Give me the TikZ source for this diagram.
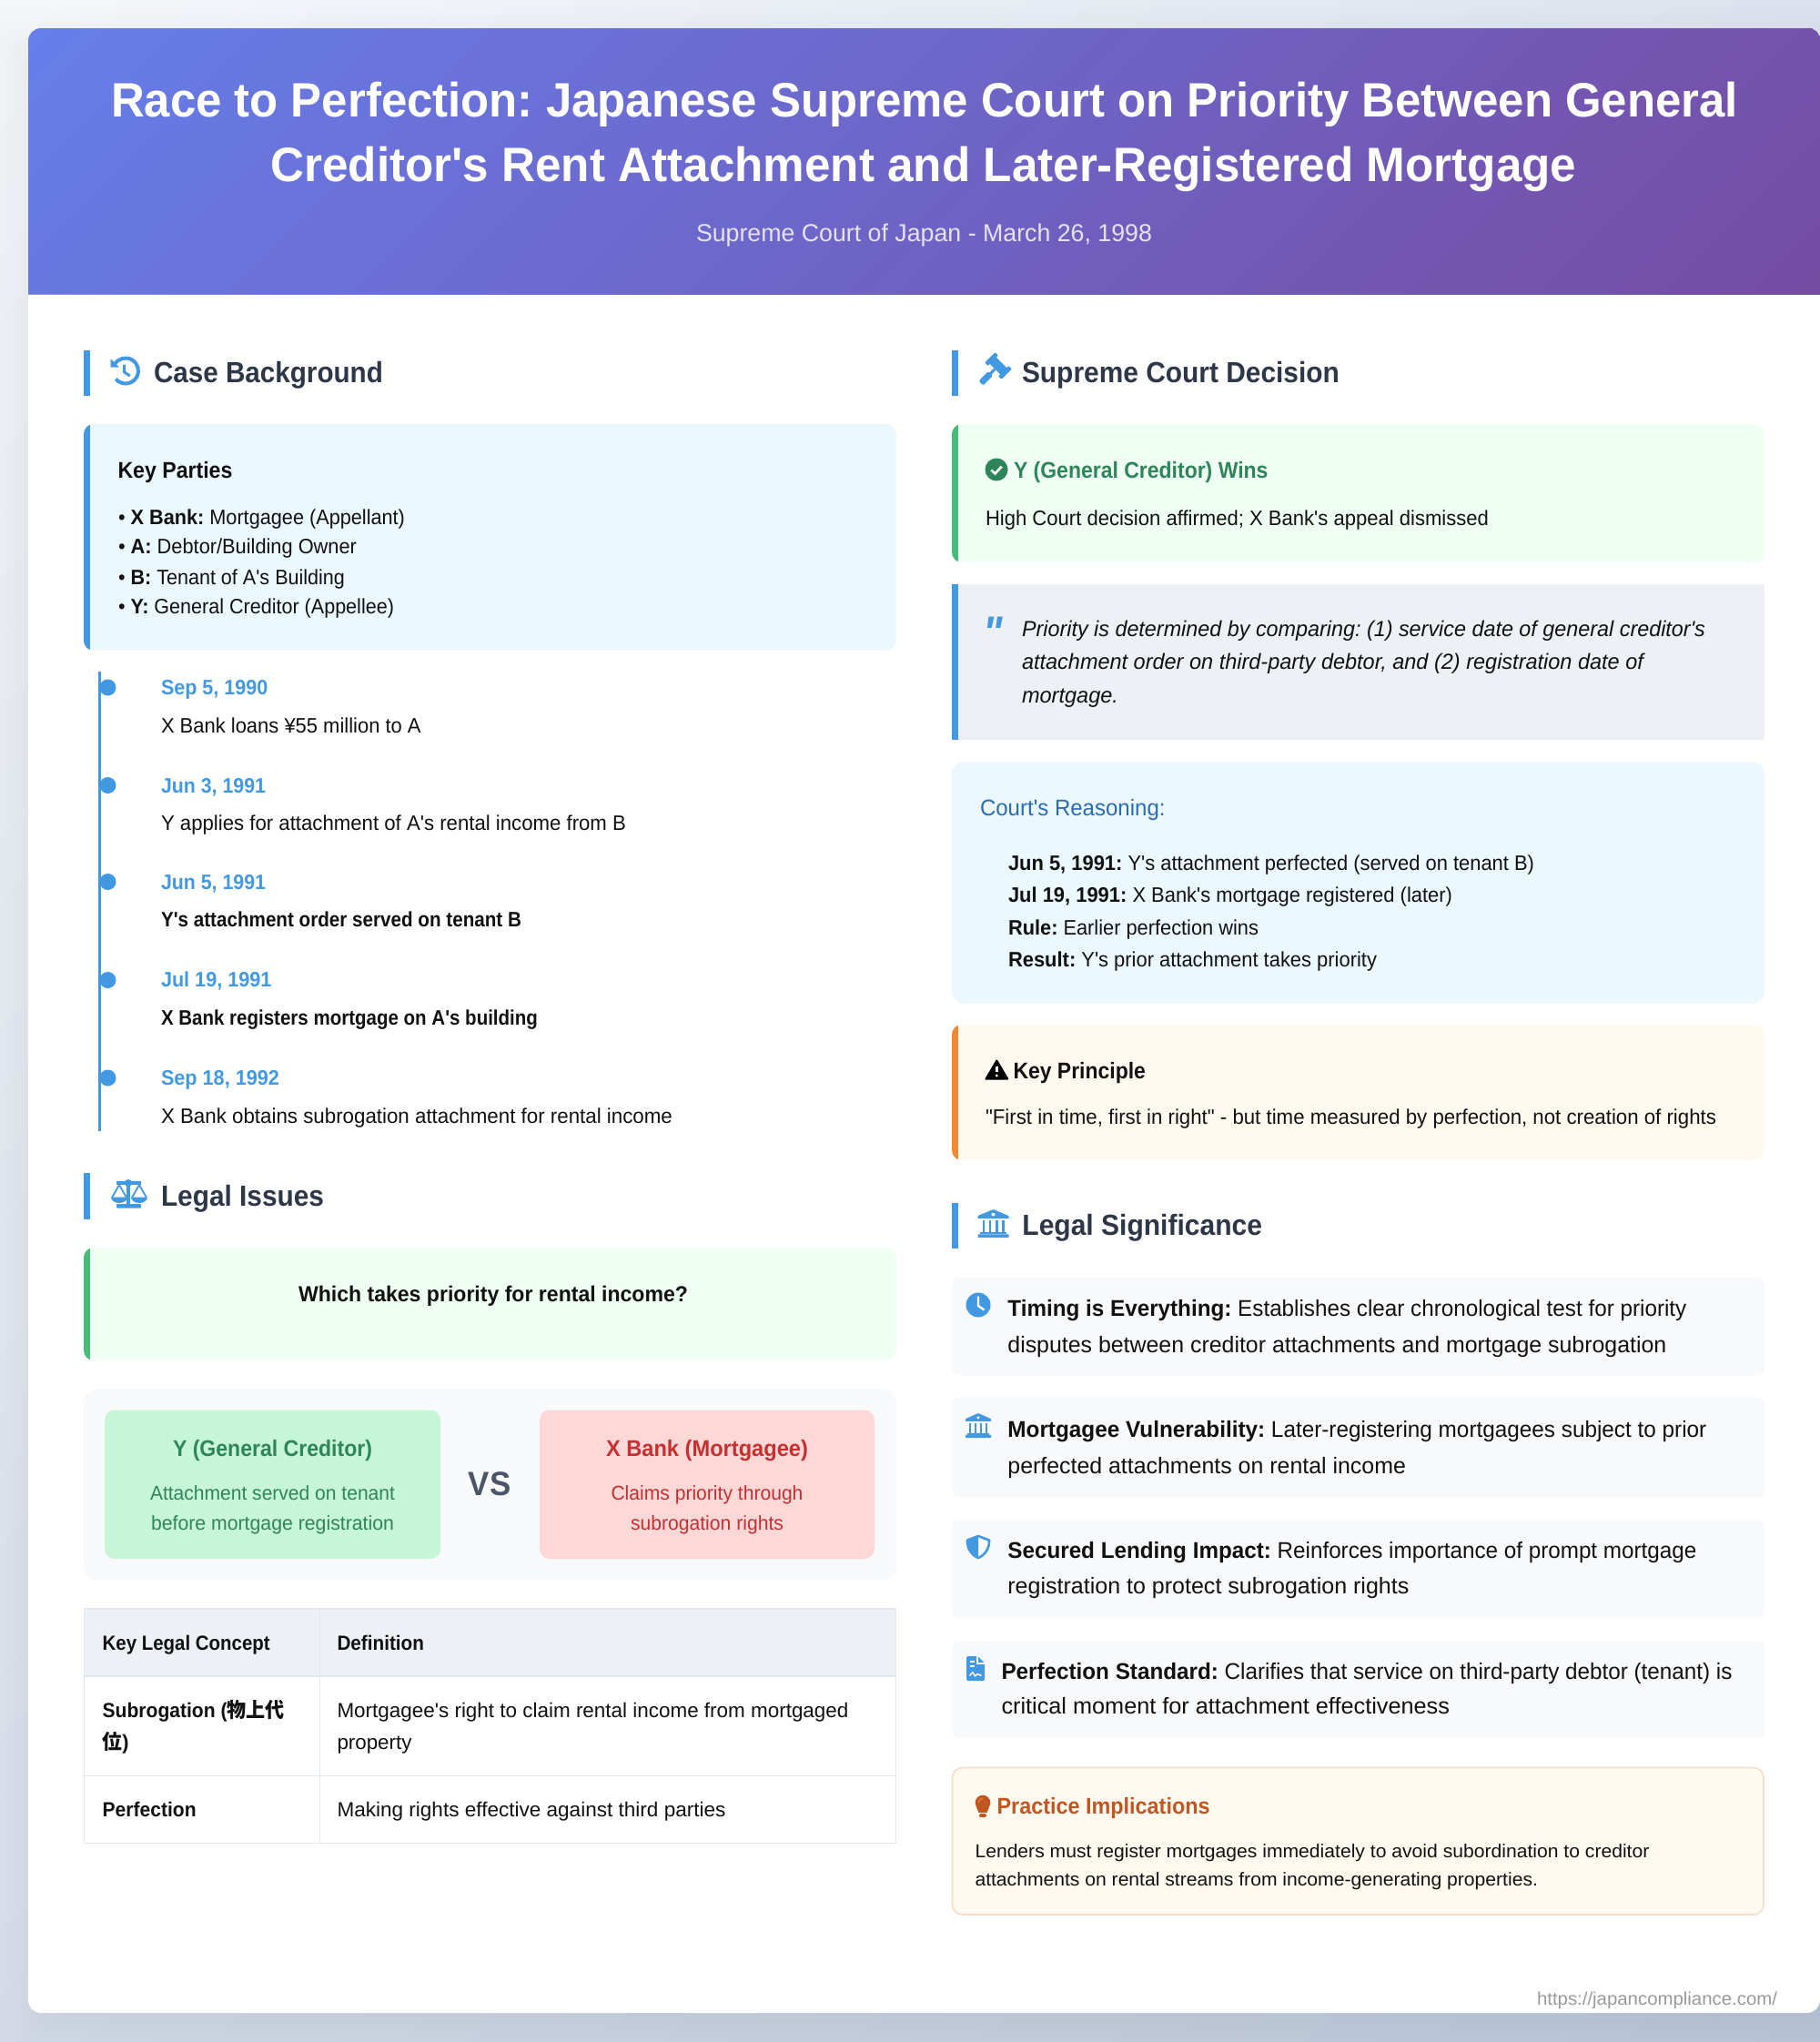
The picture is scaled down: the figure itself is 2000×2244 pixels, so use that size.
\documentclass[tikz,border=0pt]{standalone}
\usepackage{fontspec}
\usepackage{graphicx}
\setmainfont{Liberation Sans}
\newfontfamily\rob{Liberation Sans}
\newfontfamily\cjk{Noto Sans CJK JP}
\frenchspacing
\definecolor{txt}{HTML}{111111}
\definecolor{head}{HTML}{2D3748}
\definecolor{accent}{HTML}{4299E1}
\definecolor{greenbar}{HTML}{48BB78}
\definecolor{orangebar}{HTML}{ED8936}
\definecolor{infobg}{HTML}{EBF8FF}
\definecolor{okbg}{HTML}{F0FFF4}
\definecolor{warnbg}{HTML}{FFFAF0}
\definecolor{quotebg}{HTML}{EDF0F5}
\definecolor{softbg}{HTML}{F8F9FB}
\definecolor{greentxt}{HTML}{2F855A}
\definecolor{redtxt}{HTML}{C53030}
\definecolor{greenbox}{HTML}{C6F6D5}
\definecolor{redbox}{HTML}{FED7D7}
\definecolor{vstxt}{HTML}{4A5568}
\definecolor{bluetxt}{HTML}{2B6CB0}
\definecolor{pracborder}{HTML}{FBDCCB}
\definecolor{practxt}{HTML}{C05621}
\definecolor{rule}{HTML}{E2E8F0}
\definecolor{foot}{HTML}{999999}
\definecolor{subt}{HTML}{E6E2F3}
\definecolor{bgA}{HTML}{F5F7FA}
\definecolor{bgB}{HTML}{BFCBDF}
\definecolor{hdA}{HTML}{667EEA}
\definecolor{hdB}{HTML}{764BA2}
\newsavebox\tbox
\newcommand\fit[2]{\sbox\tbox{\rob\frenchspacing #2}\pgfmathsetmacro\fitf{#1/\the\wd\tbox}\scalebox{\fitf}[1]{\usebox\tbox}}
\newcounter{tn}
\tikzset{lbl/.style={inner sep=0pt,outer sep=0pt}}
\newcommand\TL[6][txt]{\stepcounter{tn}\node[lbl,text=#1,anchor=base west,name=t\thetn] at (#2,#3) {\fontsize{#4}{#4}\selectfont\fit{#5}{#6}};}
\newcommand\TC[6][txt]{\stepcounter{tn}\node[lbl,text=#1,anchor=base,name=t\thetn] at (#2,#3) {\fontsize{#4}{#4}\selectfont\fit{#5}{#6}};}
% diagonal (135deg) gradient inside the current clip: x1 y1 x2 y2 c1 c2 steps
\newcommand\GRAD[7]{\foreach \i in {0,...,#7}{%
  \pgfmathsetmacro\ss{#1+#2+\i/#7*(#3-#1+#4-#2)}%
  \pgfmathsetmacro\pp{100*\i/#7}%
  \colorlet{gc}{#6!\pp!#5}%
  \fill[gc] (\ss-#2,#2) -- (\ss-#4,#4) -- (#3+#4-#2+20,#4) -- (#3+#4-#2+20,#2) -- cycle;}}
% panel with a left bar: x1 y1 x2 y2 bg bar radius
\newcommand\PANEL[7]{\begin{scope}\clip[rounded corners=#7] (#1,#2) rectangle (#3,#4);
  \fill[#5] (#1,#2) rectangle (#3,#4);
  \fill[#6] (#1,#2) rectangle (#1+7,#4);\end{scope}}
\newcommand\BAR[2]{\fill[accent] (#1,#2) rectangle (#1+7,#2+50.5);}
\newcommand\BANK[4]{\begin{scope}[shift={(#1,#2)},x=#3pt,y=-#4pt]
  \fill[accent,rounded corners=0.6pt] (.5,0) -- (1,.23) -- (1,.33) -- (0,.33) -- (0,.23) -- cycle;
  \fill[white] (.5,.18) circle[radius=.06];
  \foreach \c in {.15,.36,.57,.78}{\fill[accent] (\c,.40) rectangle (\c+.08,.80);}
  \fill[accent] (.08,.80) rectangle (.92,.88);
  \fill[accent,rounded corners=0.6pt] (0,.88) rectangle (1,1);
\end{scope}}
\begin{document}
\begin{tikzpicture}[x=1pt,y=-1pt]
\useasboundingbox (0,0) rectangle (2000,2244);
% page background
\begin{scope}\clip (0,0) rectangle (2000,2244);
\GRAD{0}{0}{2000}{2244}{bgA}{bgB}{60}
% card shadow
\foreach \e in {50,45,...,-50}{\fill[black,opacity=.005,rounded corners=20] (31-\e,59-\e) rectangle (2060+\e,2240+\e);}
\end{scope}
% card
\fill[white,rounded corners=14] (31,31) rectangle (2000,2212);
% header
\begin{scope}
\clip[rounded corners=14] (31,31) rectangle (2000,360);
\clip (31,31) rectangle (2000,323);
\GRAD{31}{31}{2000}{323}{hdA}{hdB}{80}
\end{scope}
\TC[white]{1016}{128}{53}{1788}{\textbf{Race to Perfection: Japanese Supreme Court on Priority Between General}}
\TC[white]{1015}{199}{53}{1435}{\textbf{Creditor's Rent Attachment and Later-Registered Mortgage}}
\TC[subt]{1015.5}{265}{27}{501}{Supreme Court of Japan - March 26, 1998}
% ---------- Case Background
\BAR{92}{384.5}
\draw[accent,line width=4] (138,407.5) ++(-150:14) arc[start angle=-150,end angle=140,radius=14];
\fill[accent] (121.5,394) -- (121.5,403.5) -- (131,403.5) -- cycle;
\draw[accent,line width=3] (136.7,400.5) -- (136.7,409) -- (142.7,413);
\TL[head]{169}{420}{32}{252}{\textbf{Case Background}}
\PANEL{92}{466}{985}{715}{infobg}{accent}{11}
\TL{129.5}{525}{25}{126}{\textbf{Key Parties}}
\TL{130}{576}{23}{315}{• \textbf{X Bank:} Mortgagee (Appellant)}
\TL{130}{608}{23}{262}{• \textbf{A:} Debtor/Building Owner}
\TL{130}{642}{23}{249}{• \textbf{B:} Tenant of A's Building}
\TL{130}{674}{23}{303}{• \textbf{Y:} General Creditor (Appellee)}
% timeline
\fill[accent] (108,738) rectangle (110.8,1243);
\foreach \n/\yy in {a/755.5,b/863,c/969,d/1077,e/1184.5}{\fill[accent] (118.5,\yy) circle[radius=9];}
\TL[accent]{177}{763}{23}{117.4}{\textbf{Sep 5, 1990}}
\TL{177}{805}{23}{285.7}{X Bank loans ¥55 million to A}
\TL[accent]{177}{871}{23}{115}{\textbf{Jun 3, 1991}}
\TL{177}{912.5}{23}{511}{Y applies for attachment of A's rental income from B}
\TL[accent]{177}{977}{23}{115}{\textbf{Jun 5, 1991}}
\TL{177}{1018}{23}{396}{\textbf{Y's attachment order served on tenant B}}
\TL[accent]{177}{1084}{23}{121.4}{\textbf{Jul 19, 1991}}
\TL{177}{1126}{23}{414}{\textbf{X Bank registers mortgage on A's building}}
\TL[accent]{177}{1192}{23}{130}{\textbf{Sep 18, 1992}}
\TL{177}{1234}{23}{562}{X Bank obtains subrogation attachment for rental income}
% ---------- Legal Issues
\BAR{92}{1289}
% scales icon
\fill[accent] (128,1298.2) rectangle (155,1301.8);
\fill[accent] (141,1300) circle[radius=4];
\fill[accent] (139,1300) rectangle (143,1323);
\fill[accent,rounded corners=1] (128,1323) rectangle (155,1327.5);
\draw[accent,line width=1.8,line join=round] (123,1316) -- (131,1302) -- (139,1316);
\draw[accent,line width=1.8,line join=round] (145,1316) -- (153,1302) -- (161,1316);
\fill[accent] (122,1315.5) -- (140,1315.5) arc[start angle=0,end angle=180,x radius=9,y radius=6.5] -- cycle;
\fill[accent] (144,1315.5) -- (162,1315.5) arc[start angle=0,end angle=180,x radius=9,y radius=6.5] -- cycle;
\TL[head]{177}{1325}{32}{179}{\textbf{Legal Issues}}
\PANEL{92}{1371}{985}{1495}{okbg}{greenbar}{11}
\TC{542}{1430}{24}{428}{\textbf{Which takes priority for rental income?}}
\fill[softbg,rounded corners=14] (92,1527) rectangle (985,1736);
\fill[greenbox,rounded corners=11] (115,1549.5) rectangle (484,1713);
\fill[redbox,rounded corners=11] (593,1549.5) rectangle (961,1713);
\TC[greentxt]{299.5}{1600.5}{25}{219}{\textbf{Y (General Creditor)}}
\TC[greentxt]{299.5}{1648.5}{22}{269}{Attachment served on tenant}
\TC[greentxt]{299.5}{1681}{22}{267}{before mortgage registration}
\TC[vstxt]{538}{1643}{37}{46.5}{\textbf{VS}}
\TC[redtxt]{777}{1600.5}{25}{222}{\textbf{X Bank (Mortgagee)}}
\TC[redtxt]{777}{1648.5}{22}{211}{Claims priority through}
\TC[redtxt]{777}{1681}{22}{168}{subrogation rights}
% table
\fill[quotebg] (92,1768) rectangle (985,1842);
\draw[rule,line width=1.6] (92.5,1768) rectangle (984.5,2025.5);
\draw[rule,line width=1.6] (92.5,1842) -- (984.5,1842);
\draw[rule,line width=1.6] (92.5,1951.5) -- (984.5,1951.5);
\draw[rule,line width=1.6] (351.5,1768) -- (351.5,2025.5);
\TL{112.7}{1813}{22.5}{184}{\textbf{Key Legal Concept}}
\TL{370.5}{1813}{22.5}{95.5}{\textbf{Definition}}
\TL{112.7}{1887}{22.5}{200}{\textbf{Subrogation (}{\cjk\bfseries 物上代}}
\TL{112.7}{1922.5}{22.5}{29}{{\cjk\bfseries 位}\textbf{)}}
\TL{370.5}{1887}{22.5}{562}{Mortgagee's right to claim rental income from mortgaged}
\TL{370.5}{1922.5}{22.5}{82}{property}
\TL{112.7}{1996}{22.5}{103}{\textbf{Perfection}}
\TL{370.5}{1996}{22.5}{427}{Making rights effective against third parties}
% ---------- Supreme Court Decision
\BAR{1046}{384.5}
\begin{scope}[shift={(1097,402)},rotate=-45]
\fill[accent] (-9,-5) rectangle (9,5);
\fill[accent,rounded corners=1] (-13,-8) rectangle (-8,8);
\fill[accent,rounded corners=1] (8,-8) rectangle (13,8);
\fill[accent] (-1.5,5) rectangle (1.5,13);
\fill[accent,rounded corners=1.5] (-3.5,12) rectangle (3.5,27);
\end{scope}
\TL[head]{1123}{420}{32}{349}{\textbf{Supreme Court Decision}}
\PANEL{1046}{466}{1939}{618}{okbg}{greenbar}{11}
\fill[greentxt] (1095,516) circle[radius=12.5];
\draw[white,line width=2.6] (1089.3,516.5) -- (1093.5,520.5) -- (1100.7,512.7);
\TL[greentxt]{1114}{525}{25}{279.5}{\textbf{Y (General Creditor) Wins}}
\TL{1083}{577}{23}{553}{High Court decision affirmed; X Bank's appeal dismissed}
\PANEL{1046}{641.5}{1939}{813}{quotebg}{accent}{0}
\TL[accent]{1080}{712}{50}{22}{\textbf{\textit{"}}}
\TL{1123}{699}{24}{751}{\textit{Priority is determined by comparing: (1) service date of general creditor's}}
\TL{1123}{735.5}{24}{685}{\textit{attachment order on third-party debtor, and (2) registration date of}}
\TL{1123}{772}{24}{106}{\textit{mortgage.}}
\fill[infobg,rounded corners=14] (1046,837) rectangle (1939,1103);
\TL[bluetxt]{1077}{896}{25}{203.6}{Court's Reasoning:}
\TL{1108}{956}{23}{578}{\textbf{Jun 5, 1991:} Y's attachment perfected (served on tenant B)}
\TL{1108}{991}{23}{488}{\textbf{Jul 19, 1991:} X Bank's mortgage registered (later)}
\TL{1108}{1027}{23}{275}{\textbf{Rule:} Earlier perfection wins}
\TL{1108}{1062}{23}{405}{\textbf{Result:} Y's prior attachment takes priority}
\PANEL{1046}{1126}{1939}{1275}{warnbg}{orangebar}{11}
\fill[black,rounded corners=2] (1095.3,1163.5) -- (1109,1186.7) -- (1081.7,1186.7) -- cycle;
\draw[white,line width=2.6] (1095.3,1171.5) -- (1095.3,1178);
\fill[white] (1095.3,1182) circle[radius=1.6];
\TL{1113.5}{1185}{25}{145.5}{\textbf{Key Principle}}
\TL{1083}{1235}{23}{803}{"First in time, first in right" - but time measured by perfection, not creation of rights}
% ---------- Legal Significance
\BAR{1046}{1321.6}
\BANK{1074.5}{1329}{34}{31}
\TL[head]{1123.4}{1357}{32}{263.6}{\textbf{Legal Significance}}
\fill[softbg,rounded corners=8] (1046,1404) rectangle (1939,1511.5);
\fill[softbg,rounded corners=8] (1046,1535.4) rectangle (1939,1645.6);
\fill[softbg,rounded corners=8] (1046,1670) rectangle (1939,1778);
\fill[softbg,rounded corners=8] (1046,1803) rectangle (1939,1910);
\fill[accent] (1075,1434) circle[radius=13.5];
\draw[white,line width=2.4] (1075,1424.5) -- (1075,1435) -- (1081.5,1439.5);
\TL{1107.4}{1446}{25}{746}{\textbf{Timing is Everything:} Establishes clear chronological test for priority}
\TL{1107.4}{1486.5}{25}{724}{disputes between creditor attachments and mortgage subrogation}
\BANK{1061}{1553}{28}{27}
\TL{1107.4}{1579}{25}{768}{\textbf{Mortgagee Vulnerability:} Later-registering mortgagees subject to prior}
\TL{1107.4}{1619}{25}{437.5}{perfected attachments on rental income}
\draw[accent,line width=2.6,line join=round] (1075,1688) -- (1087,1692.5) .. controls (1087.5,1702) and (1082,1709) .. (1075,1712) .. controls (1068,1709) and (1062.5,1702) .. (1063,1692.5) -- cycle;
\fill[accent] (1075,1688) -- (1075,1712) .. controls (1068,1709) and (1062.5,1702) .. (1063,1692.5) -- cycle;
\TL{1107.4}{1712.5}{25}{757}{\textbf{Secured Lending Impact:} Reinforces importance of prompt mortgage}
\TL{1107.4}{1751}{25}{441}{registration to protect subrogation rights}
\fill[accent,rounded corners=1.5] (1062,1820) -- (1074.5,1820) -- (1082,1827.5) -- (1082,1847) -- (1062,1847) -- cycle;
\draw[softbg,line width=1.2] (1074,1820) -- (1074,1828) -- (1082,1828);
\draw[white,line width=1.8] (1065.5,1826) -- (1071,1826);
\draw[white,line width=1.8] (1065.5,1831) -- (1071,1831);
\draw[white,line width=1.4,line join=round] (1065.5,1841.5) -- (1069,1837.5) -- (1071.5,1842) -- (1074,1839.5) -- (1078.5,1841.5);
\TL{1100.5}{1845}{25}{803}{\textbf{Perfection Standard:} Clarifies that service on third-party debtor (tenant) is}
\TL{1100.5}{1883}{25}{492.5}{critical moment for attachment effectiveness}
% practice box
\fill[warnbg,draw=pracborder,line width=1.8,rounded corners=11] (1046.5,1942.5) rectangle (1938,2104);
\fill[practxt] (1080,1981) circle[radius=8.3];
\fill[practxt] (1073,1986) -- (1087,1986) -- (1084.5,1992) -- (1075.5,1992) -- cycle;
\fill[practxt,rounded corners=1.5] (1076,1993) rectangle (1084,1997);
\draw[orangebar,line width=1.2] (1075.5,1981) .. controls (1075.5,1978) and (1077,1976.5) .. (1079.5,1976.5);
\TL[practxt]{1095.6}{1993}{25}{234}{\textbf{Practice Implications}}
\TL{1071.5}{2041.7}{20.6}{741}{Lenders must register mortgages immediately to avoid subordination to creditor}
\TL{1071.5}{2072}{20.6}{618.5}{attachments on rental streams from income-generating properties.}
\TL[foot]{1689}{2203}{20}{264}{https://japancompliance.com/}
\end{tikzpicture}
\end{document}
